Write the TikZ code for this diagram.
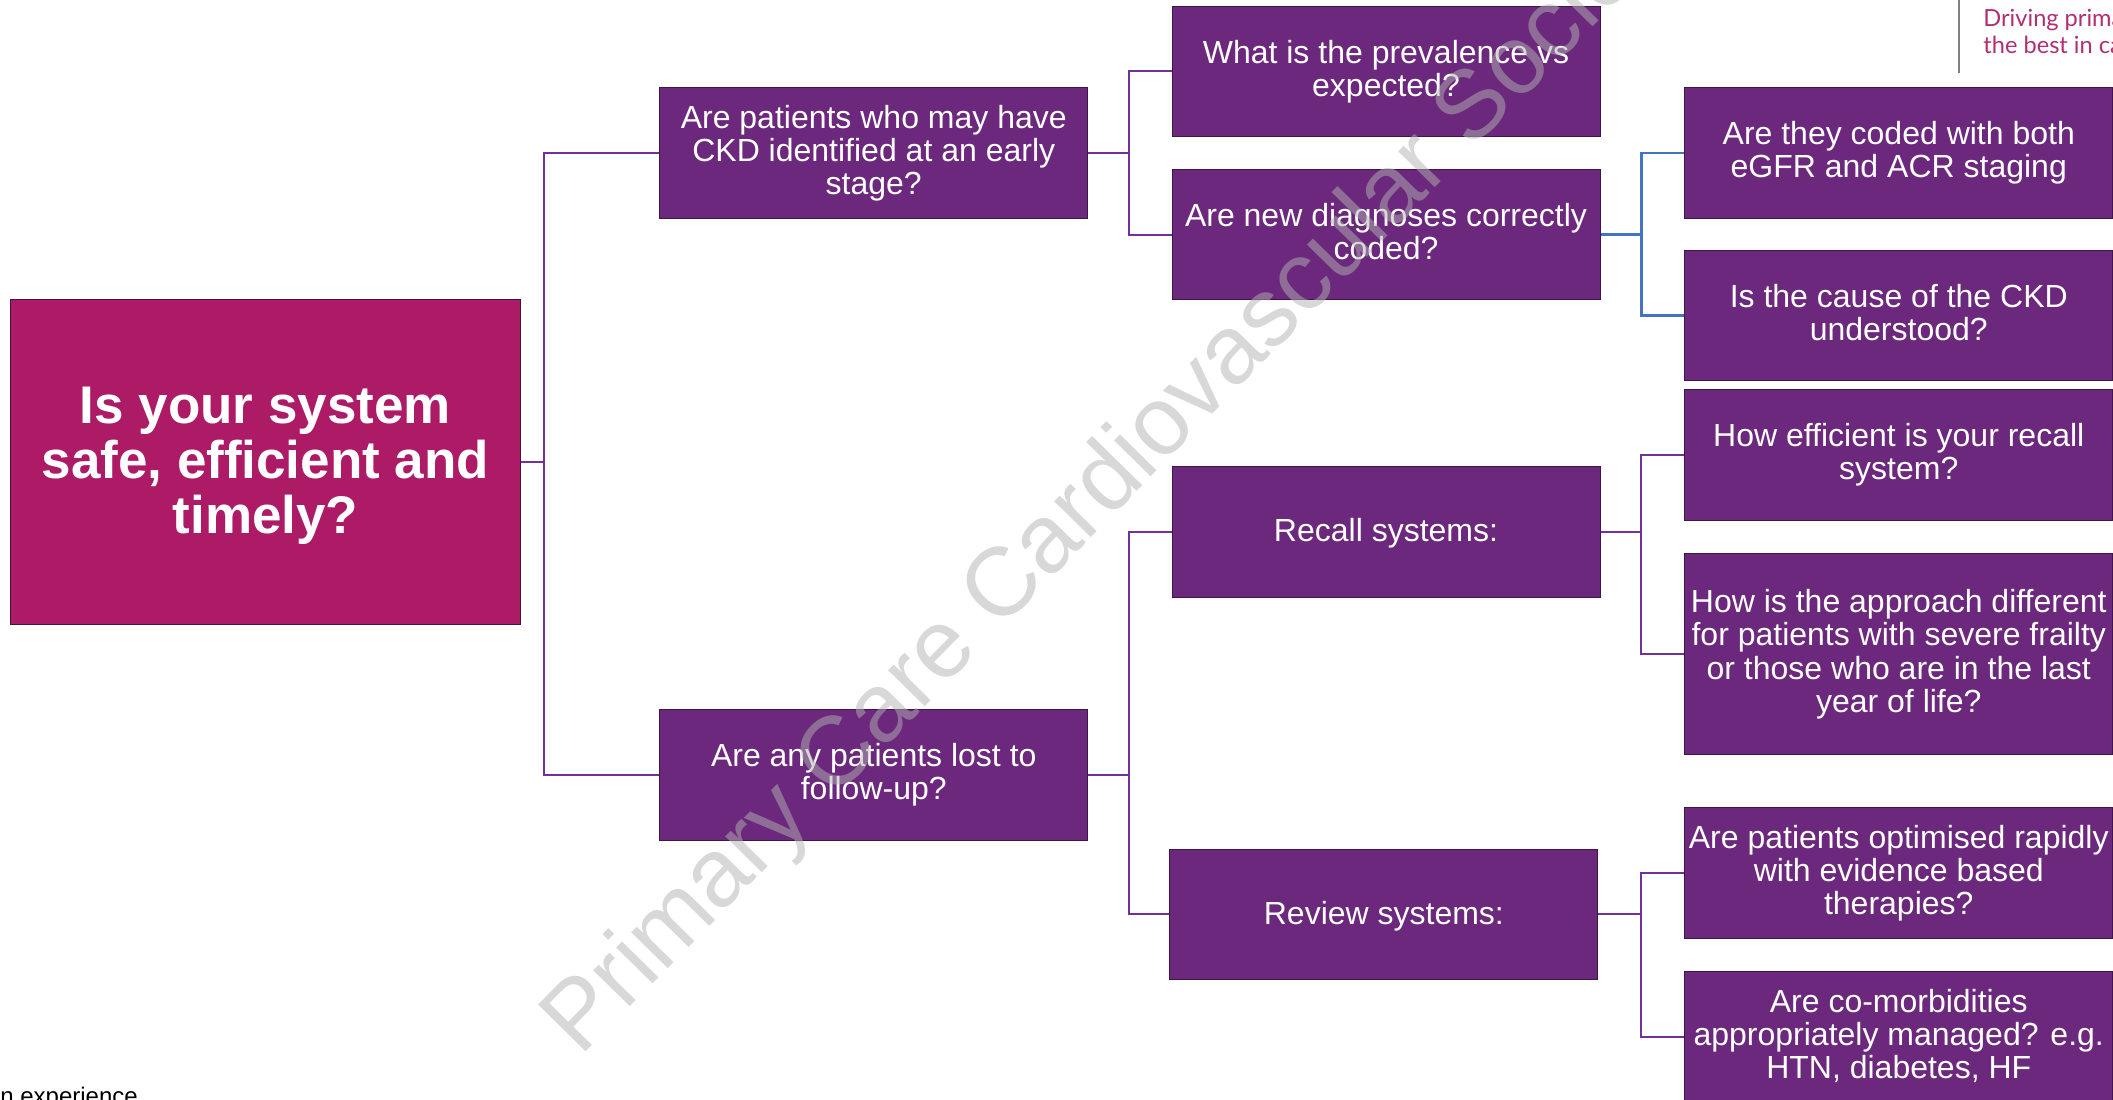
\documentclass[tikz,border=0pt]{standalone}
\usepackage{fontspec}
\setmainfont{Liberation Sans}
\newfontfamily\headfont{Lato}
\definecolor{rootfill}{HTML}{AD1A66}
\definecolor{boxfill}{HTML}{6B287D}
\definecolor{boxline}{HTML}{3E1748}
\definecolor{linkpurple}{HTML}{7030A0}
\definecolor{linkblue}{HTML}{4472C4}
\definecolor{brand}{HTML}{B02F72}
% fixed line ascent/descent so box texts centre on their line boxes
\newcommand\qtop{\rule{0pt}{13pt}}
\newcommand\qbot{\rule[-3.4pt]{0pt}{3.4pt}}
\begin{document}
\begin{tikzpicture}[x=0.5pt,y=-0.5pt,
  qbox/.style={draw=boxline, line width=0.5pt, fill=boxfill, text=white,
    align=center, inner sep=0pt, minimum width=214pt, minimum height=65.4pt,
    font=\fontsize{16}{16.6}\selectfont,
    execute at begin node=\qtop, execute at end node=\qbot},
  rootbox/.style={draw=boxline, line width=0.5pt, fill=rootfill,
    inner sep=0pt, minimum width=254.6pt, minimum height=162.5pt},
  roottext/.style={text=white, align=center, inner sep=0pt, yshift=-2pt,
    font=\fontsize{26.5}{27.6}\selectfont\bfseries},
  link/.style={draw=linkpurple, line width=1pt},
  bluelink/.style={draw=linkblue, line width=1.2pt},
  tag/.style={anchor=base west, inner sep=0pt, text=brand,
    font=\headfont\fontsize{11.8}{13}\selectfont}]
\useasboundingbox (0,0) rectangle (2113,1099);
\clip (0,0) rectangle (2113,1099);

% junction columns for the elbow connectors
\coordinate (j1) at (544.4,0);
\coordinate (j2) at (1129.3,0);
\coordinate (j3) at (1641.4,0);

% root question
\node[rootbox, label={[roottext]center:{Is your system\\safe, efficient and\\timely?}}] (root) at (265.4,461.5) {};

% first level
\node[qbox] (ckd) at (873.75,153) {Are patients who may have\\CKD identified at an early\\stage?};
\node[qbox] (lost) at (873.75,774.8) {Are any patients lost to\\follow-up?};

% second level
\node[qbox] (prev) at (1386,71.4) {What is the prevalence vs\\expected?};
\node[qbox] (coded) at (1386,234.5) {Are new diagnoses correctly\\coded?};
\node[qbox] (recall) at (1386,532.3) {Recall systems:};
\node[qbox] (review) at (1383.9,914.4) {Review systems:};

% third level
\node[qbox] (staging) at (1898.75,153) {Are they coded with both\\eGFR and ACR staging};
\node[qbox] (cause) at (1898.75,315.4) {Is the cause of the CKD\\understood?};
\node[qbox] (eff) at (1898.75,454.8) {How efficient is your recall\\system?};
\node[qbox, minimum height=100.4pt] (frail) at (1898.75,654.3) {How is the approach different\\for patients with severe frailty\\or those who are in the last\\year of life?};
\node[qbox] (optim) at (1898.75,873.3) {Are patients optimised rapidly\\with evidence based\\therapies?};
\node[qbox] (comorb) at (1898.75,1037) {Are co-morbidities\\appropriately managed? e.g.\\HTN, diabetes, HF};

% connectors
\draw[link] (root.east) -| (j1 |- ckd.west) -- (ckd.west);
\draw[link] (root.east) -| (j1 |- lost.west) -- (lost.west);
\draw[link] (ckd.east) -| (j2 |- prev.west) -- (prev.west);
\draw[link] (ckd.east) -| (j2 |- coded.west) -- (coded.west);
\draw[link] (lost.east) -| (j2 |- recall.west) -- (recall.west);
\draw[link] (lost.east) -| (j2 |- review.west) -- (review.west);
\draw[bluelink] (coded.east) -| (j3 |- staging.west) -- (staging.west);
\draw[bluelink] (coded.east) -| (j3 |- cause.west) -- (cause.west);
\draw[link] (recall.east) -| (j3 |- eff.west) -- (eff.west);
\draw[link] (recall.east) -| (j3 |- frail.west) -- (frail.west);
\draw[link] (review.east) -| (j3 |- optim.west) -- (optim.west);
\draw[link] (review.east) -| (j3 |- comorb.west) -- (comorb.west);

% header strip
\draw[gray, line width=0.6pt] (1959,0) -- (1959,73);
\node[tag] (tag1) at (1983,26.7) {Driving primary};
\node[tag] (tag2) at (1983,53.4) {the best in care};

% footer text
\node[anchor=base west, inner sep=0pt, font=\fontsize{12}{14}\selectfont] (foot) at (0,1104) {n experience};

% watermark
\node[rotate=45.5, anchor=base west, inner sep=0pt, text=gray!60, text opacity=0.5,
  font=\fontsize{48.5}{48.5}\selectfont] (wm) at (580,1058) {Primary Care Cardiovascular Society};
\end{tikzpicture}
\end{document}
